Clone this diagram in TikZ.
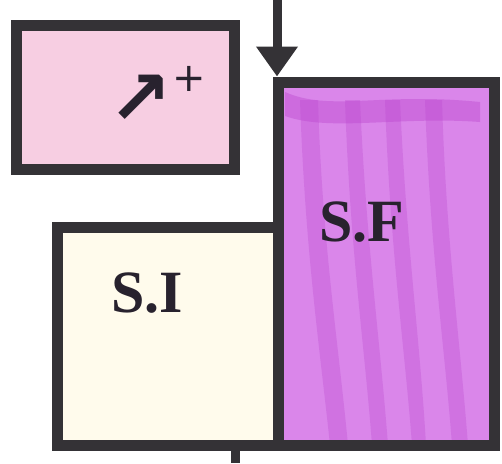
\documentclass[tikz,border=0pt]{standalone}
\usepackage{fontspec}
\setmainfont{Liberation Serif}
\newfontfamily\symfont{DejaVu Sans}
\usetikzlibrary{arrows.meta}
\definecolor{edge}{RGB}{52,50,54}
\definecolor{pinkfill}{RGB}{247,206,226}
\definecolor{sffill}{RGB}{218,134,234}
\definecolor{sfstreak}{RGB}{186,68,206}
\definecolor{sifill}{RGB}{255,251,236}
\definecolor{txt}{RGB}{40,34,46}
\begin{document}
\begin{tikzpicture}[x=1pt,y=-1pt,
  box/.style={draw=edge, line width=11pt, inner sep=0pt, rectangle},
  conn/.style={draw=edge, line width=9pt},
  lab/.style={text=txt, font=\bfseries\fontsize{60}{60}\selectfont, inner sep=0pt}]
\useasboundingbox (0,0) rectangle (502,463);
% S.I box
\node[box, fill=sifill, minimum width=221pt, minimum height=218pt] (si) at (167.5,336) {};
% S.F box
\node[box, fill=sffill, minimum width=216pt, minimum height=363pt] (sf) at (386,263.5) {};
\begin{scope}
  \clip ([shift={(11,11)}]sf.north west) rectangle ([shift={(-11,-11)}]sf.south east);
  \fill[sfstreak, opacity=0.4] (285,92) .. controls (330,112) and (380,92) .. (480,102) -- (480,122) .. controls (400,116) and (330,132) .. (285,116) -- cycle;
  \fill[sfstreak, opacity=0.3] (300,100) .. controls (305,250) and (320,350) .. (330,445) -- (348,445) .. controls (338,340) and (322,240) .. (318,100) -- cycle;
  \fill[sfstreak, opacity=0.3] (345,100) .. controls (350,250) and (365,350) .. (372,445) -- (388,445) .. controls (380,340) and (366,240) .. (360,100) -- cycle;
  \fill[sfstreak, opacity=0.3] (385,100) .. controls (390,250) and (405,350) .. (412,445) -- (426,445) .. controls (420,340) and (406,240) .. (400,100) -- cycle;
  \fill[sfstreak, opacity=0.3] (425,100) .. controls (430,250) and (445,350) .. (452,445) -- (468,445) .. controls (460,340) and (446,240) .. (442,100) -- cycle;
\end{scope}
\draw[edge, line width=11pt] (sf.north west) ++(5.5,5.5) rectangle ([shift={(-5.5,-5.5)}]sf.south east);
% pink box
\node[box, fill=pinkfill, minimum width=218pt, minimum height=144pt] (pinkbox) at (125,97) {};
\node[text=txt, inner sep=0pt] (sym) at (157,95)
  {{\symfont\bfseries\fontsize{76}{76}\selectfont ↗}\raisebox{33pt}{\symfont\fontsize{40}{40}\selectfont +}};
% labels
\node[lab] (silab) at (147,293) {S.I};
\node[lab] (sflab) at (362,222) {S.F};
% connectors
\coordinate (top) at (277,0);
\draw[conn, -{Triangle[width=40pt,length=30pt]}] (top) -- (top |- sf.north);
\coordinate (bot) at (235,463);
\draw[conn] (bot |- si.south) -- (bot);
\end{tikzpicture}
\end{document}
